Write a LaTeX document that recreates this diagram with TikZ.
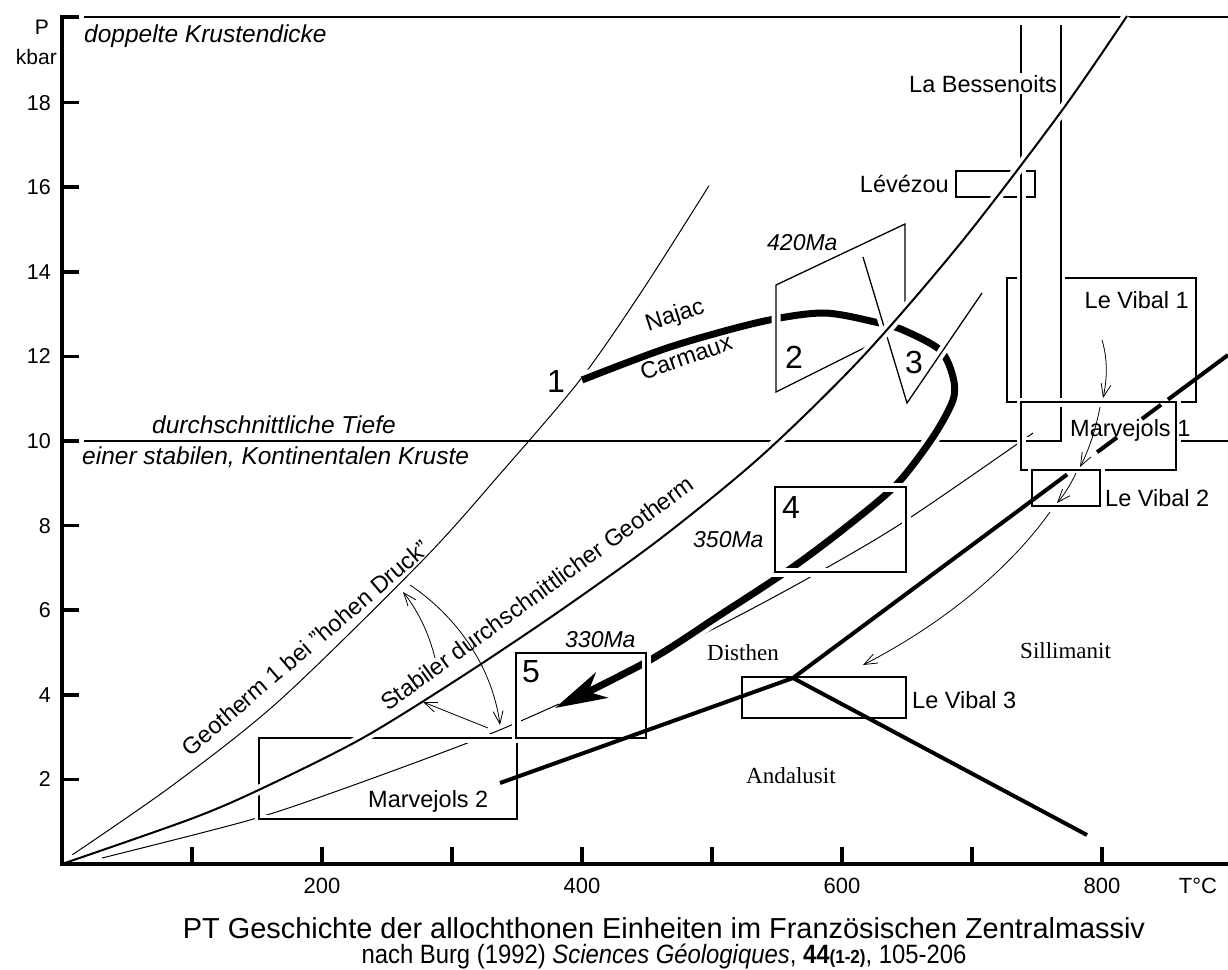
\documentclass[tikz,border=0pt]{standalone}
\usepackage{fontspec}
\setmainfont{Liberation Sans}
\newfontfamily\tnrfont{Liberation Serif}
\usetikzlibrary{arrows.meta,calc}
\tikzset{
  box/.style={line width=1.3},
  halo/.style={preaction={draw=white,line width=#1}},
  alu/.style={line width=4},
  thinarr/.style={line width=0.8,-{Straight Barb[length=13pt,width=10pt]}},
  lbl/.style={font=\fontsize{23.5}{28}\selectfont,inner sep=0pt},
  ilbl/.style={font=\fontsize{24.5}{28}\selectfont\itshape,inner sep=0pt},
  ma/.style={font=\fontsize{23}{28}\selectfont\itshape,inner sep=0pt},
  num/.style={font=\fontsize{32}{36}\selectfont,inner sep=0pt},
  tnr/.style={font=\fontsize{23}{28}\selectfont\tnrfont,inner sep=0pt},
  ylab/.style={font=\fontsize{21.5}{24}\selectfont,inner sep=0pt,anchor=east},
  xlab/.style={font=\fontsize{22}{24}\selectfont,inner sep=0pt},
  whitebg/.style={fill=white,inner sep=1.5pt}
}
\begin{document}
\begin{tikzpicture}[x=1pt,y=-1pt]
\useasboundingbox (0,0) rectangle (1228,969);

% reference lines P = 20 and P = 10
\draw[line width=1.6] (84,17) -- (1228,17);
\draw[line width=1.6] (84,441) -- (1017,441);
\draw[line width=1.6] (1178,441) -- (1228,441);

% thin shifted geotherm
\draw[line width=1] plot[smooth] coordinates {(102,858) (250,820) (340,790) (470,742) (550,708) (650,661) (742,614) (812,576) (902,523) (1033,433)};

% Geotherm 1 (high pressure)
\draw[line width=1] plot[smooth] coordinates {(72,855) (173,785) (280,700) (423,560) (500,474) (580,380) (640,294) (700,200) (708,187)};

% Levezou box
\draw[box] (956,171) rectangle (1035,197);

% La Bessenoits
\draw[box,halo=9] (1021,25) -- (1021,441) -- (1061,441) -- (1061,25);

% Le Vibal 1, Marvejols 1, Le Vibal 2
\draw[box,halo=9] (1017,278) -- (1007,278) -- (1007,402) -- (1196,402) -- (1196,278) -- (1065,278);
\draw[box,halo=9] (1021,402) rectangle (1176,470);
\draw[box,halo=9] (1032,470) rectangle (1100,506);

% PT path
\draw[white,line width=15] plot[smooth] coordinates {(582,380) (670,347) (760,322) (823,313) (875,322) (903,330) (940,350) (953,377) (953,400) (933,437) (897,484) (850,524) (793,567) (720,615) (650,660) (560,706)};
\draw[line width=7,-{Stealth[length=52pt,width=28pt,inset=15pt]}] plot[smooth] coordinates {(582,380) (670,347) (760,322) (823,313) (875,322) (903,330) (940,350) (953,377) (953,400) (933,437) (897,484) (850,524) (793,567) (720,615) (650,660) (555,708)};

% boxes 2,3,4,5, Marvejols 2
\draw[box,halo=9] (880,340) -- (776,392) -- (776,285) -- (905,224) -- (905,310);
\draw[box,halo=9] (863,257) -- (907,403) -- (982,293);
\draw[box,halo=9] (775,487) rectangle (906,572);
\draw[box,halo=9] (259,738) rectangle (517,819);
\draw[box,halo=9] (516,653) rectangle (646,738);

% main geotherm
\draw[line width=2,halo=10] plot[smooth] coordinates {(62,864) (192,818.5) (262,788.4) (362,738.4) (462,676.4) (562,609.4) (662,537.4) (762,455.4) (862,357.4) (962,241.4) (1062,110.4) (1127,16)};

% aluminosilicate lines
\coordinate (tp) at (793,678);
\coordinate (andky) at (500,783);
\coordinate (andsil) at (1087,835);
\coordinate (kysil) at (1228,355);
\draw[alu] (tp) -- (andky);
\draw[alu] (tp) -- (andsil);
\draw[alu] (tp) -- ($(tp)!0.630!(kysil)$);
\draw[alu] ($(tp)!0.699!(kysil)$) -- ($(tp)!0.745!(kysil)$);
\draw[alu] ($(tp)!0.802!(kysil)$) -- ($(tp)!0.846!(kysil)$);
\draw[alu] ($(tp)!0.862!(kysil)$) -- (kysil);

% Le Vibal 3
\draw[box] (742,677) rectangle (906,718);

% thin arrows
\coordinate (a1s) at (435,658); \coordinate (a1e) at (403,592);
\coordinate (a2s) at (410,585); \coordinate (a2e) at (500,725);
\coordinate (a3s) at (488,728); \coordinate (a3e) at (423,702);
\draw[thinarr] (a1s) .. controls (428,630) and (416,608) .. (a1e);
\draw[thinarr] (a2s) .. controls (455,615) and (492,665) .. (a2e);
\draw[thinarr] (a3s) -- (a3e);
\coordinate (b1s) at (1102,340); \coordinate (b1e) at (1103,398);
\coordinate (b2s) at (1100,407); \coordinate (b2e) at (1080,467);
\coordinate (b3s) at (1076,473); \coordinate (b3e) at (1057,503);
\coordinate (b4s) at (1050,512); \coordinate (b4e) at (863,665);
\draw[thinarr] (b1s) .. controls (1108,360) and (1107,380) .. (b1e);
\draw[thinarr] (b2s) .. controls (1096,428) and (1089,450) .. (b2e);
\draw[thinarr] (b3s) .. controls (1071,484) and (1064,495) .. (b3e);
\draw[thinarr] (b4s) .. controls (1005,575) and (935,628) .. (b4e);

% labels
\node[ilbl,anchor=base west] (dk) at (84,42.5) {doppelte Krustendicke};
\node[ilbl,anchor=base west] (dt) at (152,433) {durchschnittliche Tiefe};
\node[ilbl,anchor=base west] (sk) at (82,464) {einer stabilen, Kontinentalen Kruste};
\node[lbl,whitebg,anchor=base west] (bes) at (907.5,92) {La Bessenoits};
\node[lbl,anchor=base east] (lev) at (949,192) {L\'ev\'ezou};
\node[lbl,anchor=base east] (lv1) at (1189,308) {Le Vibal 1};
\node[lbl,anchor=base west] (mv1) at (1070,436) {Marvejols 1};
\node[lbl,anchor=base west] (lv2) at (1105,506) {Le Vibal 2};
\node[lbl,anchor=base west] (lv3) at (912,708) {Le Vibal 3};
\node[lbl,anchor=base west] (mv2) at (368,807) {Marvejols 2};
\node[num] (n1) at (556,381) {1};
\node[num] (n2) at (794,357) {2};
\node[num] (n3) at (914,362) {3};
\node[num] (n4) at (791,507) {4};
\node[num] (n5) at (531,672) {5};
\node[ma,anchor=base west] (m420) at (767,250) {420Ma};
\node[ma,anchor=base west] (m350) at (693,547) {350Ma};
\node[ma,anchor=base west] (m330) at (565,647) {330Ma};
\node[tnr,anchor=base west] (dis) at (707,660) {Disthen};
\node[tnr,anchor=base west] (sil) at (1020,658) {Sillimanit};
\node[tnr,anchor=base west] (and) at (746,783) {Andalusit};
\node[lbl,rotate=18] (naj) at (675,316) {Najac};
\node[lbl,rotate=19] (car) at (686,357) {Carmaux};
\node[lbl,anchor=base,rotate=40.5] (g1) at (311,654) {Geotherm 1 bei "hohen Druck"};
\node[lbl,anchor=base,rotate=36] (gs) at (542,600) {Stabiler durchschnittlicher Geotherm};

% axes
\draw[line width=3.5] (79,17) -- (62,17) -- (62,864) -- (1228,864);
\foreach \p in {2,4,...,18} {
  \draw[line width=3.5] (62,864-42.3*\p) -- (79,864-42.3*\p);
  \node[ylab] at (51,864-42.3*\p) {\p};
}
\foreach \t in {100,200,...,800} {
  \draw[line width=3.5] (62+1.3*\t,864) -- (62+1.3*\t,847);
}
\foreach \t in {200,400,600,800} {
  \node[xlab] at (62+1.3*\t,886) {\t};
}
\node[xlab] (tc) at (1198,886) {T\textdegree C};
\node[font=\fontsize{21}{24}\selectfont,inner sep=0pt] (pl) at (42,27.5) {P};
\node[font=\fontsize{21}{24}\selectfont,inner sep=0pt,anchor=base east] (kb) at (57,64) {kbar};

% captions
\node[font=\fontsize{28.9}{32}\selectfont,inner sep=0pt,anchor=base] (title) at (664,938) {PT Geschichte der allochthonen Einheiten im Franz\"osischen Zentralmassiv};
\node[font=\fontsize{26.5}{28}\selectfont,inner sep=0pt,anchor=base] (foot) at (664,963) {\scalebox{0.9}[1]{nach Burg (1992) \textit{Sciences G\'eologiques}, \textbf{44}{\fontsize{19}{20}\selectfont\bfseries(1-2)}, 105-206}};
\end{tikzpicture}
\end{document}
